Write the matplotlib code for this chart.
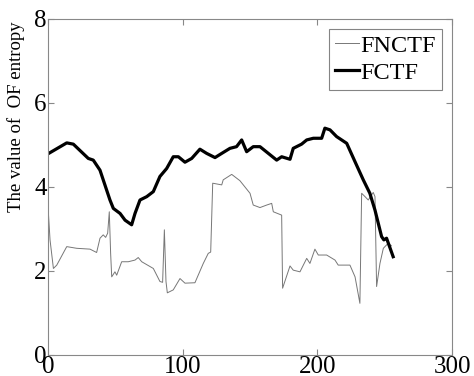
import matplotlib
matplotlib.use("Agg")
import matplotlib.pyplot as plt

plt.rcParams['font.family'] = ['Liberation Serif', 'DejaVu Serif']

# FNCTF (thin grey line)
fnctf_x = [0, 1.5, 4, 6.5, 13.9, 21.3, 31.2, 36.1, 38.6, 41, 42.8, 44.3, 45.5, 46.5, 47.3,
           49.7, 51, 54.7, 59.6, 64.6, 67, 69.6, 78.2, 83.1, 85.1, 86.4, 87.6, 88.6, 93,
           98, 101.7, 109.1, 115.3, 119, 120.8, 122.3, 129, 130.1, 136.4, 142.5, 150,
           152.4, 157.4, 162.4, 166.1, 167.3, 173.5, 174.2, 179.7, 182.1, 187.1, 192.1,
           194.5, 198.2, 200.7, 206.9, 213.1, 215.5, 224.2, 228, 231.6, 232.9, 235.4,
           237.8, 241.5, 242.8, 244, 246.5, 249, 252.6, 255]
fnctf_y = [3.53, 2.74, 2.06, 2.14, 2.58, 2.54, 2.52, 2.44, 2.78, 2.86, 2.80, 2.9, 3.41, 2.42, 1.86,
           1.98, 1.90, 2.22, 2.22, 2.26, 2.32, 2.22, 2.06, 1.75, 1.73, 2.98, 1.75, 1.48, 1.55,
           1.82, 1.71, 1.72, 2.18, 2.42, 2.45, 4.09, 4.05, 4.17, 4.30, 4.15, 3.85,
           3.57, 3.51, 3.57, 3.61, 3.41, 3.33, 1.59, 2.12, 2.02, 1.98, 2.30,
           2.18, 2.52, 2.38, 2.38, 2.26, 2.14, 2.14, 1.86, 1.23, 3.85, 3.77,
           3.69, 3.87, 3.77, 1.63, 2.18, 2.54, 2.66, 2.60]

# FCTF (thick black line)
fctf_x = [0, 13.9, 18.8, 29.9, 33.6, 38.6, 46, 48.5, 53.5, 57.2, 62.1, 64.6, 68.3, 73.3,
          78.2, 83.1, 88.1, 93, 96.8, 101.7, 106.7, 112.8, 117.8, 124, 129, 135.1, 140,
          143.8, 147.5, 152.4, 157.4, 169.8, 173.5, 179.7, 182.1, 188.3, 192.1, 197,
          203.2, 205.6, 209.4, 214.3, 221.8, 228, 234.1, 239, 242.8, 247.7, 249.4,
          251.4, 256.3]
fctf_y = [4.79, 5.05, 5.02, 4.68, 4.64, 4.40, 3.69, 3.49, 3.37, 3.21, 3.10, 3.37, 3.69, 3.77,
          3.89, 4.25, 4.44, 4.72, 4.72, 4.59, 4.68, 4.90, 4.80, 4.70, 4.80, 4.92, 4.96,
          5.12, 4.84, 4.96, 4.96, 4.64, 4.72, 4.66, 4.92, 5.02, 5.12, 5.16,
          5.16, 5.40, 5.36, 5.20, 5.04, 4.60, 4.17, 3.85, 3.45, 2.82, 2.74,
          2.78, 2.34]

fig = plt.figure(figsize=(4.74, 3.76), dpi=100)
ax = fig.add_axes([0.1013, 0.0559, 0.8523, 0.8936])

ax.plot(fnctf_x, fnctf_y, color='#777777', lw=0.7, label='FNCTF')
ax.plot(fctf_x, fctf_y, color='black', lw=2.3, label='FCTF')

ax.set_xlim(0, 300)
ax.set_ylim(0, 8)
ax.set_xticks([0, 100, 200, 300])
ax.set_yticks([0, 2, 4, 6, 8])
ax.tick_params(direction='in', top=True, right=True, length=4, labelsize=18,
               color='#888888', pad=1)
for s in ax.spines.values():
    s.set_color('#888888')
    s.set_linewidth(0.8)

ax.set_ylabel('The value of  OF entropy', fontsize=13.5)
ax.yaxis.set_label_coords(-0.057, 0.708)

leg = ax.legend(loc='upper right', fontsize=17.5, handlelength=1.0, handletextpad=0.05,
                labelspacing=0.2, borderpad=0.25, borderaxespad=0.4, fancybox=False)
leg.get_frame().set_edgecolor('#666666')
leg.get_frame().set_linewidth(0.8)

fig.savefig('out.png', dpi=100)
